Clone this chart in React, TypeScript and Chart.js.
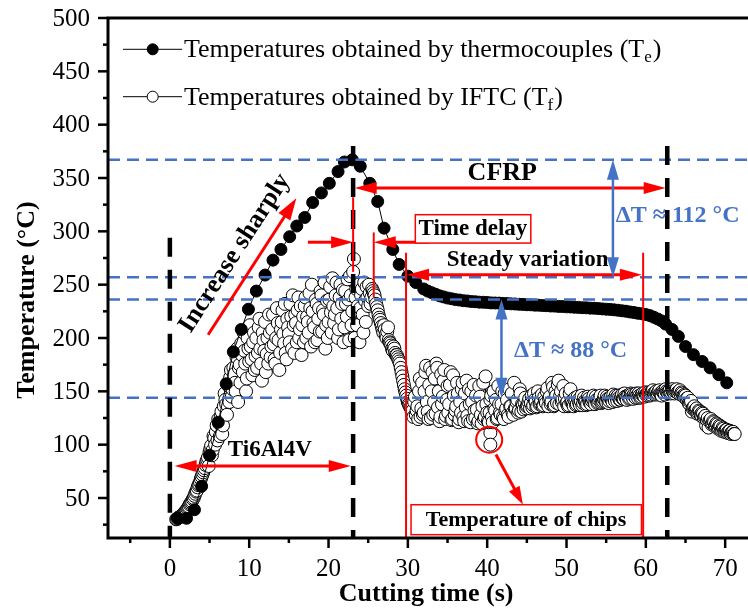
import React, { useEffect, useRef } from "react";
import { Chart, registerables } from "chart.js";
Chart.register(...registerables);

// ---------------- data ----------------
const thermoTime = [1.0, 2.1, 3.1, 4.0, 5.0, 6.1, 7.1, 8.0, 9.0, 9.9, 10.9, 12.0, 13.0, 14.0, 15.1, 16.0, 17.0, 18.0, 19.1, 20.1, 21.2, 22.0, 23.0, 24.0, 25.2, 26.2, 27.0, 28.1, 28.9, 30.0, 31.0, 32.0, 32.5, 33.0, 33.5, 34.0, 34.5, 35.0, 35.5, 36.0, 36.5, 37.0, 37.5, 38.0, 38.5, 39.0, 39.5, 40.0, 40.5, 41.0, 41.5, 42.0, 42.5, 43.0, 43.5, 44.0, 44.5, 45.0, 45.5, 46.0, 46.5, 47.0, 47.5, 48.0, 48.5, 49.0, 49.5, 50.0, 50.5, 51.0, 51.5, 52.0, 52.5, 53.0, 53.5, 54.0, 54.5, 55.0, 55.5, 56.0, 56.5, 57.0, 57.5, 58.0, 58.5, 59.0, 59.5, 60.0, 60.5, 61.0, 61.5, 62.0, 62.5, 63.3, 64.1, 65.0, 66.0, 67.1, 68.1, 69.2, 70.2];
const thermoTemp = [31, 31, 39, 61, 90, 121, 157, 187, 208, 227, 244, 259, 273, 283, 295, 305, 313, 327, 336, 345, 356, 365, 367, 361, 345, 328, 303, 283, 269, 258, 252, 246, 244, 242.5, 241, 239.5, 238.5, 237.5, 236.8, 236, 235.6, 235, 234.7, 234.2, 234, 233.6, 233.5, 233.3, 232.9, 232.8, 232.7, 232.4, 232.3, 232, 231.9, 231.6, 231.5, 231.2, 231.1, 230.8, 230.7, 230.4, 230.3, 230, 229.9, 229.6, 229.5, 229.2, 229.1, 228.8, 228.7, 228.4, 228.3, 228, 227.9, 227.6, 227.3, 227, 226.8, 226.4, 226, 225.5, 225.1, 224.4, 223.9, 223.2, 222.7, 222, 221, 219.5, 217.8, 216, 213, 208, 201.5, 192, 184.4, 178, 172, 165.6, 158];

// IFTC samples (even tenths)
const iftcTime = [
  0.8, 1.0, 1.2, 1.4, 1.6, 1.8, 2.0, 2.2, 2.4, 2.6, 2.8, 3.0, 3.2, 3.4, 3.6, 3.8, 4.0, 4.2, 4.4, 4.6, 4.8, 5.0, 5.2, 5.4, 5.6, 5.8, 6.0, 6.2, 6.4, 6.6, 6.8, 7.0, 7.2, 7.4, 7.6, 7.8, 8.0,
  8.2, 8.4, 8.6, 8.8, 9.0, 9.2, 9.4, 9.6, 9.8, 10.0, 10.2, 10.4, 10.6, 10.8, 11.0, 11.2, 11.4, 11.6, 11.8, 12.0, 12.2, 12.4, 12.6, 12.8, 13.0, 13.2, 13.4, 13.6, 13.8, 14.0, 14.2, 14.4, 14.6, 14.8, 15.0, 15.2, 15.4, 15.6, 15.8, 16.0, 16.2, 16.4, 16.6, 16.8, 17.0, 17.2, 17.4, 17.6, 17.8, 18.0, 18.2, 18.4, 18.6, 18.8, 19.0, 19.2, 19.4, 19.6, 19.8, 20.0, 20.2, 20.4, 20.6, 20.8, 21.0, 21.2, 21.4, 21.6, 21.8, 22.0, 22.2, 22.4, 22.6, 22.8, 23.0,
  23.2, 23.4, 23.6, 23.8, 24.0, 24.2, 24.4, 24.6, 24.8, 25.0, 25.2, 25.4, 25.6, 25.8, 26.0, 26.2, 26.4, 26.6, 26.8, 27.0, 27.2, 27.4, 27.6, 27.8, 28.0, 28.2, 28.4, 28.6, 28.8, 29.0, 29.2, 29.4, 29.6, 29.8, 30.0, 30.2, 30.4,
  30.6, 30.8, 31.0, 31.2, 31.4, 31.6, 31.8, 32.0, 32.2, 32.4, 32.6, 32.8, 33.0, 33.2, 33.4, 33.6, 33.8, 34.0, 34.2, 34.4, 34.6, 34.8, 35.0, 35.2, 35.4, 35.6, 35.8, 36.0, 36.2, 36.4, 36.6, 36.8, 37.0, 37.2, 37.4, 37.6, 37.8, 38.0, 38.2, 38.4, 38.6, 38.8, 39.0, 39.2, 39.4, 39.6, 39.8, 40.0, 40.2, 40.4, 40.6, 40.8, 41.0, 41.2, 41.4, 41.6, 41.8, 42.0, 42.2, 42.4, 42.6, 42.8, 43.0, 43.2, 43.4, 43.6, 43.8, 44.0, 44.2, 44.4, 44.6, 44.8, 45.0,
  45.2, 45.4, 45.6, 45.8, 46.0, 46.2, 46.4, 46.6, 46.8, 47.0, 47.2, 47.4, 47.6, 47.8, 48.0, 48.2, 48.4, 48.6, 48.8, 49.0, 49.2, 49.4, 49.6, 49.8, 50.0, 50.2, 50.4, 50.6, 50.8, 51.0, 51.2, 51.4, 51.6, 51.8, 52.0, 52.2, 52.4, 52.6, 52.8, 53.0, 53.2, 53.4, 53.6, 53.8, 54.0, 54.2, 54.4, 54.6, 54.8, 55.0, 55.2, 55.4, 55.6, 55.8, 56.0, 56.2, 56.4, 56.6, 56.8, 57.0, 57.2, 57.4, 57.6, 57.8, 58.0, 58.2, 58.4, 58.6, 58.8, 59.0, 59.2, 59.4, 59.6, 59.8, 60.0,
  60.2, 60.4, 60.6, 60.8, 61.0, 61.2, 61.4, 61.6, 61.8, 62.0, 62.2, 62.4, 62.6, 62.8, 63.0, 63.2, 63.4, 63.6, 63.8, 64.0, 64.2, 64.4, 64.6, 64.8, 65.0, 65.2, 65.4, 65.6, 65.8, 66.0, 66.2, 66.4, 66.6, 66.8, 67.0, 67.2, 67.4, 67.6, 67.8, 68.0, 68.2, 68.4, 68.6, 68.8, 69.0, 69.2, 69.4, 69.6, 69.8, 70.0, 70.2, 70.4, 70.6, 70.8, 71.0, 71.2
];
const iftcTemp = [
  30, 31, 32, 33, 34, 36, 37, 40, 42, 45, 47, 50, 54, 57, 62, 65, 70, 74, 78, 84, 88, 93, 99, 95, 106, 112, 104, 120, 126, 110, 136, 142, 128, 155, 163, 145, 172,
  158, 182, 140, 175, 195, 168, 188, 150, 200, 178, 192, 165, 205, 183, 172, 210, 190, 160, 198, 215, 185, 176, 205, 192, 222, 180, 200, 214, 170, 208, 226, 195, 186, 218, 204, 232, 190, 212, 222, 196, 238, 208, 184, 220, 230, 200, 215, 242, 192, 225, 210, 236, 198, 228, 244, 206, 222, 190, 235, 215, 248, 205, 230, 222, 252, 200, 238, 218, 245, 210, 232, 255, 198, 240, 225,
  274, 238, 212, 250, 228, 246, 205, 235, 248, 230, 242, 238, 244, 240, 232, 226, 219, 214, 208, 212, 203, 206, 198, 195, 190, 192, 186, 184, 180, 176, 168, 160, 152, 146, 140, 137, 134,
  132, 140, 128, 136, 150, 126, 158, 130, 168, 140, 124, 172, 150, 128, 162, 176, 135, 122, 166, 145, 170, 127, 155, 138, 168, 124, 146, 132, 158, 121, 140, 152, 126, 148, 160, 122, 138, 150, 124, 132, 146, 120, 155, 128, 136, 124, 164, 130, 121, 142, 126, 150, 132, 124, 155, 130, 138, 126, 148, 134, 128, 152, 136, 130, 158, 134, 142, 132, 148, 138, 133, 144, 136,
  140, 134, 146, 137, 142, 135, 150, 138, 141, 136, 145, 139, 153, 143, 138, 158, 136, 150, 139, 160, 146, 140, 155, 143, 139, 136, 148, 140, 138, 142, 137, 145, 139, 141, 137, 144, 140, 138, 143, 139, 141, 146, 138, 142, 140, 144, 139, 141, 146, 140, 143, 141, 145, 140, 143, 146, 141, 144, 142, 147, 143, 145, 142, 146, 144, 147, 143, 145, 148, 144, 146, 145, 148, 145, 147,
  146, 148, 147, 150, 148, 149, 147, 150, 148, 146, 149, 147, 150, 148, 151, 149, 150, 148, 151, 149, 150, 147, 148, 145, 146, 142, 139, 140, 131, 135, 132, 134, 130, 131, 127, 129, 126, 118, 125, 122, 124, 120, 121, 118, 119, 116, 117, 114, 115, 113, 114, 112, 113, 111, 112, 110
];

// IFTC samples (odd tenths)
const iftcTimeOdd = [
  0.9, 1.1, 1.3, 1.5, 1.7, 1.9, 2.1, 2.3, 2.5, 2.7, 2.9, 3.1, 3.3, 3.5, 3.7, 3.9, 4.1, 4.3, 4.5, 4.7, 4.9, 5.1, 5.3, 5.5, 5.7, 5.9, 6.1, 6.3, 6.5, 6.7, 6.9, 7.1, 7.3, 7.5, 7.7, 7.9,
  8.1, 8.3, 8.5, 8.7, 8.9, 9.1, 9.3, 9.5, 9.7, 9.9, 10.1, 10.3, 10.5, 10.7, 10.9, 11.1, 11.3, 11.5, 11.7, 11.9, 12.1, 12.3, 12.5, 12.7, 12.9, 13.1, 13.3, 13.5, 13.7, 13.9, 14.1, 14.3, 14.5, 14.7, 14.9, 15.1, 15.3, 15.5, 15.7, 15.9, 16.1, 16.3, 16.5, 16.7, 16.9, 17.1, 17.3, 17.5, 17.7, 17.9, 18.1, 18.3, 18.5, 18.7, 18.9, 19.1, 19.3, 19.5, 19.7, 19.9, 20.1, 20.3, 20.5, 20.7, 20.9, 21.1, 21.3, 21.5, 21.7, 21.9, 22.1, 22.3, 22.5, 22.7, 22.9,
  23.1, 23.3, 23.5, 23.7, 23.9, 24.1, 24.3, 24.5, 24.7, 24.9, 25.1, 25.3, 25.5, 25.7, 25.9, 26.1, 26.3, 26.5, 26.7, 26.9, 27.1, 27.3, 27.5, 27.7, 27.9, 28.1, 28.3, 28.5, 28.7, 28.9, 29.1, 29.3, 29.5, 29.7, 29.9, 30.1, 30.3,
  30.5, 30.7, 30.9, 31.1, 31.3, 31.5, 31.7, 31.9, 32.1, 32.3, 32.5, 32.7, 32.9, 33.1, 33.3, 33.5, 33.7, 33.9, 34.1, 34.3, 34.5, 34.7, 34.9, 35.1, 35.3, 35.5, 35.7, 35.9, 36.1, 36.3, 36.5, 36.7, 36.9, 37.1, 37.3, 37.5, 37.7, 37.9, 38.1, 38.3, 38.5, 38.7, 38.9, 39.1, 39.3, 39.5, 39.7, 39.9, 40.1, 40.3, 40.5, 40.7, 40.9, 41.1, 41.3, 41.5, 41.7, 41.9, 42.1, 42.3, 42.5, 42.7, 42.9, 43.1, 43.3, 43.5, 43.7, 43.9, 44.1, 44.3, 44.5, 44.7, 44.9,
  45.1, 45.3, 45.5, 45.7, 45.9, 46.1, 46.3, 46.5, 46.7, 46.9, 47.1, 47.3, 47.5, 47.7, 47.9, 48.1, 48.3, 48.5, 48.7, 48.9, 49.1, 49.3, 49.5, 49.7, 49.9, 50.1, 50.3, 50.5, 50.7, 50.9, 51.1, 51.3, 51.5, 51.7, 51.9, 52.1, 52.3, 52.5, 52.7, 52.9, 53.1, 53.3, 53.5, 53.7, 53.9, 54.1, 54.3, 54.5, 54.7, 54.9, 55.1, 55.3, 55.5, 55.7, 55.9, 56.1, 56.3, 56.5, 56.7, 56.9, 57.1, 57.3, 57.5, 57.7, 57.9, 58.1, 58.3, 58.5, 58.7, 58.9, 59.1, 59.3, 59.5, 59.7, 59.9,
  60.1, 60.3, 60.5, 60.7, 60.9, 61.1, 61.3, 61.5, 61.7, 61.9, 62.1, 62.3, 62.5, 62.7, 62.9, 63.1, 63.3, 63.5, 63.7, 63.9, 64.1, 64.3, 64.5, 64.7, 64.9, 65.1, 65.3, 65.5, 65.7, 65.9, 66.1, 66.3, 66.5, 66.7, 66.9, 67.1, 67.3, 67.5, 67.7, 67.9, 68.1, 68.3, 68.5, 68.7, 68.9, 69.1, 69.3, 69.5, 69.7, 69.9, 70.1, 70.3, 70.5, 70.7, 70.9, 71.1
];
const iftcTempOdd = [
  30.5, 31.5, 32.5, 33.5, 35, 37, 38.5, 41, 44, 46, 49, 52, 56, 60, 63, 68, 72, 76, 81, 86, 80, 96, 90, 108, 100, 118, 124, 108, 131, 118, 148, 138, 158, 140, 170, 152,
  166, 150, 190, 172, 158, 184, 205, 176, 162, 190, 212, 180, 196, 170, 200, 186, 218, 176, 205, 188, 168, 200, 222, 182, 208, 194, 176, 228, 198, 186, 215, 204, 232, 180, 210, 196, 220, 240, 186, 214, 226, 200, 230, 212, 196, 238, 220, 205, 228, 250, 214, 196, 232, 218, 206, 240, 226, 252, 212, 200, 236, 224, 256, 214, 240, 228, 208, 250, 232, 196, 244, 220, 236, 258, 212,
  262, 200, 246, 230, 196, 240, 222, 252, 215, 238, 250, 232, 246, 242, 236, 229, 222, 217, 211, 205, 208, 200, 210, 196, 193, 188, 190, 184, 182, 178, 172, 164, 156, 149, 143, 138, 135,
  130, 126, 145, 132, 124, 162, 134, 128, 150, 174, 131, 156, 125, 168, 140, 129, 172, 150, 126, 138, 160, 124, 142, 130, 156, 123, 165, 128, 136, 148, 124, 130, 158, 122, 135, 127, 152, 121, 140, 156, 125, 133, 122, 145, 120, 158, 126, 138, 122, 130, 146, 121, 134, 142, 125, 138, 128, 150, 124, 132, 142, 126, 136, 148, 128, 134, 140, 130, 152, 131, 137, 140, 134,
  137, 143, 139, 135, 148, 140, 136, 144, 139, 147, 137, 141, 150, 136, 145, 140, 154, 137, 146, 156, 138, 150, 142, 136, 148, 140, 137, 152, 141, 136, 144, 138, 142, 137, 146, 139, 141, 137, 145, 140, 138, 143, 140, 145, 139, 142, 146, 140, 143, 141, 145, 139, 144, 142, 147, 141, 144, 146, 142, 145, 143, 148, 144, 146, 143, 148, 145, 147, 144, 146, 148, 144, 147, 146, 149,
  147, 149, 146, 149, 151, 147, 150, 148, 151, 147, 150, 148, 152, 149, 150, 148, 152, 149, 150, 152, 148, 151, 149, 146, 147, 143, 144, 138, 141, 134, 136, 133, 129, 132, 128, 130, 125, 127, 123, 116, 123, 119, 122, 117, 120, 115, 118, 113, 116, 112, 114, 111, 113, 110, 112, 110
];

const chipTime = [40.4, 40.4];
const chipTemp = [111, 100];

const seriesLabels = ["Temperatures obtained by thermocouples (T", "Temperatures obtained by IFTC (T"];
const seriesSubs = ["e", "f"];
const xTickLabels = [0, 10, 20, 30, 40, 50, 60, 70];
const xMinorTicks = [-5, 5, 15, 25, 35, 45, 55, 65, 75];
const yTickLabels = [50, 100, 150, 200, 250, 300, 350, 400, 450, 500];
const yMinorTicks = [25, 75, 125, 175, 225, 275, 325, 375, 425, 475];
const blueRefLines = [367, 257, 236, 144];
const phaseBounds = [0, 23.1, 62.7];

const SERIF = '"Liberation Serif", "Times New Roman", serif';
const BLUE = "#4472C4";
const RED = "#FF0000";

function pts(xs: number[], ys: number[]) {
  return xs.map((v, i) => ({ x: v, y: ys[i] }));
}

function seg(ctx: CanvasRenderingContext2D, x1: number, y1: number, x2: number, y2: number) {
  ctx.beginPath();
  ctx.moveTo(x1, y1);
  ctx.lineTo(x2, y2);
  ctx.stroke();
}

function head(ctx: CanvasRenderingContext2D, fx: number, fy: number, tx: number, ty: number, len: number, half: number) {
  const a = Math.atan2(ty - fy, tx - fx);
  const c = Math.cos(a), s = Math.sin(a);
  ctx.beginPath();
  ctx.moveTo(tx, ty);
  ctx.lineTo(tx - len * c + half * s, ty - len * s - half * c);
  ctx.lineTo(tx - len * c - half * s, ty - len * s + half * c);
  ctx.closePath();
  ctx.fill();
}

function arrow(ctx: CanvasRenderingContext2D, x1: number, y1: number, x2: number, y2: number, color: string, w: number, both: boolean, len = 20, half = 6) {
  ctx.save();
  ctx.setLineDash([]);
  ctx.strokeStyle = color;
  ctx.fillStyle = color;
  ctx.lineWidth = w;
  const a = Math.atan2(y2 - y1, x2 - x1);
  const c = Math.cos(a), s = Math.sin(a);
  const sx = both ? x1 + len * 0.7 * c : x1;
  const sy = both ? y1 + len * 0.7 * s : y1;
  seg(ctx, sx, sy, x2 - len * 0.7 * c, y2 - len * 0.7 * s);
  head(ctx, x1, y1, x2, y2, len, half);
  if (both) head(ctx, x2, y2, x1, y1, len, half);
  ctx.restore();
}

function text(ctx: CanvasRenderingContext2D, str: string, x: number, y: number, font: string, color: string, align: CanvasTextAlign = "center", base: CanvasTextBaseline = "middle") {
  ctx.font = font;
  ctx.fillStyle = color;
  ctx.textAlign = align;
  ctx.textBaseline = base;
  ctx.fillText(str, x, y);
}

const overlay = {
  id: "overlay",
  afterDatasetsDraw(chart: any) {
    const { ctx, chartArea: ca, scales } = chart;
    const X = (v: number) => scales.x.getPixelForValue(v);
    const Y = (v: number) => scales.y.getPixelForValue(v);
    const bottom = ca.bottom;
    ctx.save();

    // blue dashed reference lines
    ctx.strokeStyle = BLUE;
    ctx.lineWidth = 2.5;
    ctx.setLineDash([12, 7]);
    for (const v of blueRefLines) seg(ctx, ca.left, Y(v), ca.right, Y(v));

    // black dashed phase boundaries
    ctx.strokeStyle = "#000";
    ctx.lineWidth = 4.5;
    ctx.setLineDash([19, 13]);
    seg(ctx, X(phaseBounds[0]), Y(294), X(phaseBounds[0]), bottom);
    seg(ctx, X(phaseBounds[1]), Y(380), X(phaseBounds[1]), bottom);
    seg(ctx, X(phaseBounds[2]), Y(380), X(phaseBounds[2]), bottom);
    ctx.setLineDash([]);

    // red thin verticals
    ctx.strokeStyle = RED;
    ctx.lineWidth = 2;
    seg(ctx, X(23.1), Y(332), X(23.1), Y(262));
    seg(ctx, X(25.7), Y(299), X(25.7), Y(238));
    seg(ctx, X(29.77), Y(280), X(29.77), bottom);
    seg(ctx, X(59.66), Y(280), X(59.66), bottom);

    // red arrows
    arrow(ctx, X(4.82), Y(203), X(15.94), Y(331), RED, 3, false, 22, 7);
    arrow(ctx, X(0.6), Y(80), X(22.8), Y(80), RED, 3, true, 22, 6);
    arrow(ctx, X(23.3), Y(340.6), X(62.5), Y(340.6), RED, 3, true, 22, 6);
    arrow(ctx, X(17.4), Y(289.8), X(23.1), Y(289.8), RED, 3, false, 22, 6);
    arrow(ctx, X(32.7), Y(289.8), X(25.7), Y(289.8), RED, 3, false, 22, 6);
    arrow(ctx, X(29.9), Y(259.4), X(59.5), Y(259.4), RED, 3, true, 22, 6);
    arrow(ctx, X(41.1), Y(90.8), X(44.5), Y(44), RED, 3, false, 18, 6);

    // red circle around chips
    ctx.strokeStyle = RED;
    ctx.lineWidth = 2;
    ctx.beginPath();
    ctx.arc(X(40.25), Y(104.7), 13, 0, Math.PI * 2);
    ctx.stroke();

    // blue delta arrows
    arrow(ctx, X(55.85), Y(367), X(55.85), Y(257), BLUE, 2.5, true, 20, 6);
    arrow(ctx, X(41.8), Y(236), X(41.8), Y(144), BLUE, 2.5, true, 20, 6);

    // boxes
    const box = (x1: number, y1: number, x2: number, y2: number) => {
      const l = X(x1), t = Y(y1), r = X(x2), b = Y(y2);
      ctx.fillStyle = "#fff";
      ctx.fillRect(l, t, r - l, b - t);
      ctx.strokeStyle = RED;
      ctx.lineWidth = 1.5;
      ctx.strokeRect(l, t, r - l, b - t);
    };
    box(30.94, 315.6, 45.5, 289);
    box(30.4, 43.7, 59.45, 15.6);

    // annotation texts
    const B = (n: number) => `bold ${n}px ${SERIF}`;
    text(ctx, "Time delay", X(38.2), Y(302.5), B(23), "#000");
    text(ctx, "Temperature of chips", X(44.9), Y(29.5), B(22), "#000");
    text(ctx, "CFRP", X(41.9), Y(354.7), B(26), "#000");
    text(ctx, "Steady variation", X(45.1), Y(272.7), B(23), "#000");
    text(ctx, "Ti6Al4V", X(12.6), Y(95.3), B(23), "#000");
    text(ctx, "ΔT ≈ 112 °C", X(56.2), Y(314.7), B(24), BLUE, "left");
    text(ctx, "ΔT ≈ 88 °C", X(50.5), Y(188.4), B(24), BLUE);
    ctx.save();
    ctx.translate(X(8.18), Y(279.5));
    ctx.rotate(-57.1 * Math.PI / 180);
    text(ctx, "Increase sharply", 0, 0, B(26), "#000");
    ctx.restore();

    // axes frame
    ctx.strokeStyle = "#000";
    ctx.lineWidth = 3;
    ctx.beginPath();
    ctx.moveTo(ca.right, ca.top);
    ctx.lineTo(ca.left, ca.top);
    ctx.lineTo(ca.left, ca.bottom);
    ctx.lineTo(ca.right, ca.bottom);
    ctx.stroke();

    // ticks
    ctx.lineWidth = 2.5;
    for (const v of yTickLabels) seg(ctx, ca.left, Y(v), ca.left - 10, Y(v));
    for (const v of yMinorTicks) seg(ctx, ca.left, Y(v), ca.left - 5, Y(v));
    for (const v of xTickLabels) seg(ctx, X(v), ca.bottom, X(v), ca.bottom + 10);
    for (const v of xMinorTicks) seg(ctx, X(v), ca.bottom, X(v), ca.bottom + 5);

    const tickFont = `25px ${SERIF}`;
    for (const v of yTickLabels) text(ctx, String(v), ca.left - 18, Y(v) + 1, tickFont, "#000", "right");
    for (const v of xTickLabels) text(ctx, String(v), X(v), ca.bottom + 31, tickFont, "#000");

    // axis titles
    text(ctx, "Cutting time (s)", X(32.3), 594, B(26), "#000");
    ctx.save();
    ctx.translate(27, 300);
    ctx.rotate(-Math.PI / 2);
    text(ctx, "Temperature (°C)", 0, 0, B(26), "#000");
    ctx.restore();

    // legend
    const legY = [49.3, 96.7];
    for (let i = 0; i < 2; i++) {
      const ly = legY[i];
      ctx.strokeStyle = "#000";
      ctx.lineWidth = 1;
      seg(ctx, 123, ly, 182, ly);
      ctx.beginPath();
      ctx.arc(152.7, ly, 5.5, 0, Math.PI * 2);
      ctx.fillStyle = i === 0 ? "#000" : "#fff";
      ctx.fill();
      ctx.stroke();
      const main = seriesLabels[i];
      const base = ly + 8;
      ctx.font = `26px ${SERIF}`;
      ctx.textAlign = "left";
      ctx.textBaseline = "alphabetic";
      ctx.fillStyle = "#000";
      ctx.fillText(main, 184, base);
      const w = ctx.measureText(main).width;
      ctx.font = `17px ${SERIF}`;
      ctx.fillText(seriesSubs[i], 184 + w, base + 5);
      const ws = ctx.measureText(seriesSubs[i]).width;
      ctx.font = `26px ${SERIF}`;
      ctx.fillText(")", 184 + w + ws + 1, base);
    }

    ctx.restore();
  },
};

export default function App() {
  const ref = useRef<HTMLCanvasElement | null>(null);
  useEffect(() => {
    if (!ref.current) return;
    const iftcPoints = pts(iftcTime, iftcTemp)
      .concat(pts(iftcTimeOdd, iftcTempOdd))
      .sort((a, b) => a.x - b.x);
    const chart = new Chart(ref.current, {
      type: "scatter",
      data: {
        datasets: [
          {
            label: seriesLabels[0],
            data: pts(thermoTime, thermoTemp),
            showLine: true,
            borderColor: "#000",
            borderWidth: 1,
            pointRadius: 6,
            pointBackgroundColor: "#000",
            pointBorderColor: "#000",
            pointBorderWidth: 1,
          },
          {
            label: seriesLabels[1],
            data: iftcPoints,
            showLine: true,
            borderColor: "#000",
            borderWidth: 1,
            pointRadius: 6.5,
            pointBackgroundColor: "#fff",
            pointBorderColor: "#000",
            pointBorderWidth: 1,
          },
          {
            label: "chips",
            data: pts(chipTime, chipTemp),
            showLine: false,
            pointRadius: 6.5,
            pointBackgroundColor: "#fff",
            pointBorderColor: "#000",
            pointBorderWidth: 1,
          },
        ],
      },
      options: {
        responsive: false,
        animation: false,
        devicePixelRatio: 1,
        layout: { padding: { top: 18, right: 6, bottom: 0, left: 0 } },
        plugins: { legend: { display: false }, tooltip: { enabled: false } },
        scales: {
          x: {
            type: "linear",
            min: -7.8,
            max: 80,
            grid: { display: false },
            border: { display: false },
            ticks: { display: false },
            afterFit: (s: any) => { s.height = 72; },
          },
          y: {
            type: "linear",
            min: 12.5,
            max: 500,
            grid: { display: false },
            border: { display: false },
            ticks: { display: false },
            afterFit: (s: any) => { s.width = 108; },
          },
        },
      } as any,
      plugins: [overlay],
    });
    return () => chart.destroy();
  }, []);
  return (
    <div style={{ position: "fixed", left: 0, top: 0, width: 748, height: 610, overflow: "hidden", background: "#fff" }}>
      <canvas ref={ref} width={812} height={610} style={{ display: "block", width: 812, height: 610 }} />
    </div>
  );
}
